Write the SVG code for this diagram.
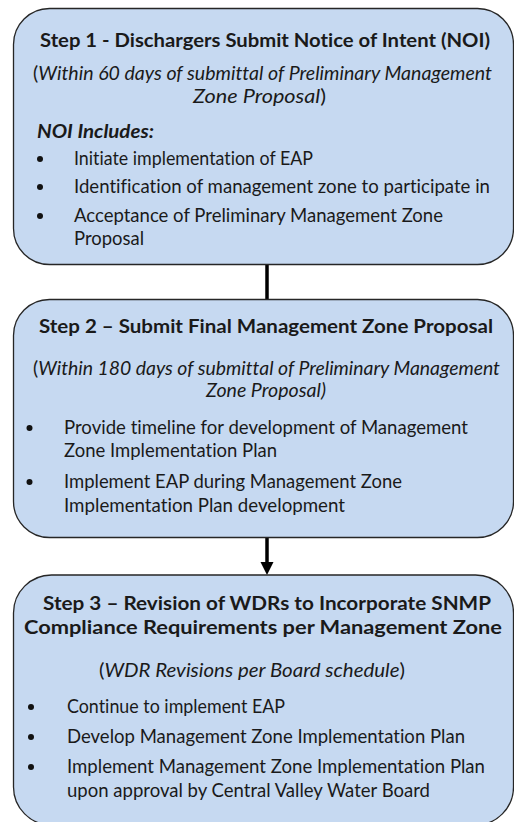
<svg xmlns="http://www.w3.org/2000/svg" width="514" height="822" viewBox="0 0 514 822">
<defs>
<style>
.box{fill:#c6d9f1;stroke:#262626;stroke-width:1.3}
.t{font-family:Lato,"Liberation Sans",sans-serif;font-size:19px;fill:#1a1a1a;font-variant-ligatures:none;font-feature-settings:"liga" 0,"clig" 0}
.b{font-weight:bold}
.i{font-style:italic}
.n{font-style:normal}
.dot{fill:#111}
.conn{stroke:#000;stroke-width:3.5;fill:none}
</style>
</defs>
<rect width="514" height="822" fill="#ffffff"/>
<g id="connectors">
<line class="conn" x1="267" y1="264" x2="267" y2="300"/>
<line class="conn" x1="267" y1="537" x2="267" y2="565"/>
<polygon points="260.5,562 273.5,562 267,575" fill="#000"/>
</g>
<g id="step1">
<rect class="box" x="13.5" y="8.5" width="500" height="256" rx="36" ry="36"/>
<text class="t b" x="40" y="47" textLength="450" lengthAdjust="spacingAndGlyphs">Step 1 - Dischargers Submit Notice of Intent (NOI)</text>
<text class="t i" x="33" y="80" textLength="459" lengthAdjust="spacingAndGlyphs"><tspan class="n">(</tspan>Within 60 days of submittal of Preliminary Management</text>
<text class="t i" x="193" y="103" textLength="133" lengthAdjust="spacingAndGlyphs">Zone Proposal<tspan class="n">)</tspan></text>
<text class="t b i" x="37" y="138" textLength="117" lengthAdjust="spacingAndGlyphs">NOI Includes:</text>
<circle class="dot" cx="40" cy="159" r="3"/>
<text class="t" x="74" y="165" textLength="239" lengthAdjust="spacingAndGlyphs">Initiate implementation of EAP</text>
<circle class="dot" cx="40" cy="187" r="3"/>
<text class="t" x="74" y="193" textLength="416" lengthAdjust="spacingAndGlyphs">Identification of management zone to participate in</text>
<circle class="dot" cx="40" cy="216" r="3"/>
<text class="t" x="74" y="222" textLength="369" lengthAdjust="spacingAndGlyphs">Acceptance of Preliminary Management Zone</text>
<text class="t" x="74" y="245" textLength="70" lengthAdjust="spacingAndGlyphs">Proposal</text>
</g>
<g id="step2">
<rect class="box" x="13.5" y="299.5" width="500" height="238" rx="36" ry="36"/>
<text class="t b" x="39" y="333" textLength="454" lengthAdjust="spacingAndGlyphs">Step 2 – Submit Final Management Zone Proposal</text>
<text class="t i" x="33" y="375" textLength="467" lengthAdjust="spacingAndGlyphs"><tspan class="n">(</tspan>Within 180 days of submittal of Preliminary Management</text>
<text class="t i" x="206" y="397" textLength="120" lengthAdjust="spacingAndGlyphs">Zone Proposal)</text>
<circle class="dot" cx="29.5" cy="428" r="3"/>
<text class="t" x="64" y="434" textLength="404" lengthAdjust="spacingAndGlyphs">Provide timeline for development of Management</text>
<text class="t" x="64" y="457" textLength="213" lengthAdjust="spacingAndGlyphs">Zone Implementation Plan</text>
<circle class="dot" cx="29.5" cy="482" r="3"/>
<text class="t" x="64" y="488" textLength="338" lengthAdjust="spacingAndGlyphs">Implement EAP during Management Zone</text>
<text class="t" x="64" y="512" textLength="281" lengthAdjust="spacingAndGlyphs">Implementation Plan development</text>
</g>
<g id="step3">
<rect class="box" x="13.5" y="575" width="500" height="250" rx="38" ry="38"/>
<text class="t b" x="43" y="610" font-size="20" textLength="448" lengthAdjust="spacingAndGlyphs">Step 3 – Revision of WDRs to Incorporate SNMP</text>
<text class="t b" x="24" y="634" font-size="20" textLength="478" lengthAdjust="spacingAndGlyphs">Compliance Requirements per Management Zone</text>
<text class="t i" x="99" y="677" textLength="306" lengthAdjust="spacingAndGlyphs"><tspan class="n">(</tspan>WDR Revisions per Board schedule<tspan class="n">)</tspan></text>
<circle class="dot" cx="31" cy="707" r="3"/>
<text class="t" x="67" y="713" textLength="218" lengthAdjust="spacingAndGlyphs">Continue to implement EAP</text>
<circle class="dot" cx="31" cy="737" r="3"/>
<text class="t" x="67" y="743" textLength="398" lengthAdjust="spacingAndGlyphs">Develop Management Zone Implementation Plan</text>
<circle class="dot" cx="31" cy="767" r="3"/>
<text class="t" x="67" y="773" textLength="418" lengthAdjust="spacingAndGlyphs">Implement Management Zone Implementation Plan</text>
<text class="t" x="67" y="797" textLength="363" lengthAdjust="spacingAndGlyphs">upon approval by Central Valley Water Board</text>
</g>
</svg>
